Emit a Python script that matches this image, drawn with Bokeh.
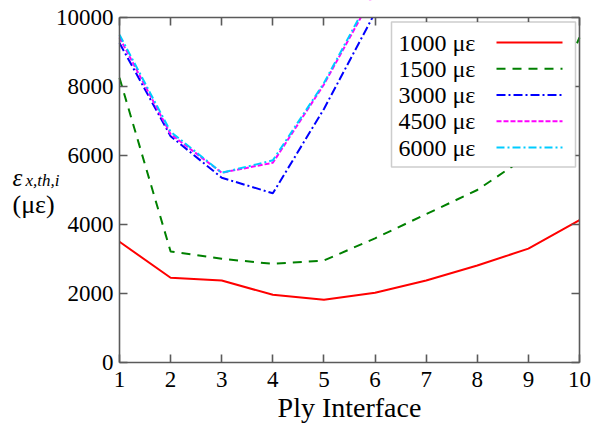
from bokeh.plotting import figure
from bokeh.models import LinearAxis, FixedTicker, Label, BoxAnnotation, Arrow, Range1d
from bokeh.embed import file_html
from bokeh.resources import INLINE

# ---------------- data ----------------
interfaces = [1, 2, 3, 4, 5, 6, 7, 8, 9, 10]
strain_1000 = [3500, 2455, 2377, 1962, 1817, 2020, 2377, 2812, 3300, 4130]
strain_1500 = [8250, 3217, 3006, 2860, 2956, 3600, 4300, 5000, 6000, 9420]
interfaces_high = [1, 2, 3, 4, 5, 6]
strain_3000 = [9260, 6560, 5356, 4904, 7350, 10140]
strain_4500 = [9420, 6620, 5500, 5790, 8060, 10750]
strain_6000 = [9500, 6690, 5500, 5860, 8100, 10850]
x_ticks = [1, 2, 3, 4, 5, 6, 7, 8, 9, 10]
y_ticks = [0, 2000, 4000, 6000, 8000, 10000]
legend_labels = ["1000 με", "1500 με", "3000 με", "4500 με", "6000 με"]
x_label = "Ply Interface"
y_label_sym = "ε"
y_label_sub = "x,th,i"
y_label_unit = "(με)"

# ---------------- styles ----------------
FONT = "Liberation Serif"
AXIS_COLOR = "#5a5a5a"
series = [
    (interfaces, strain_1000, "#ff0000", "solid"),
    (interfaces, strain_1500, "#008000", "9 7"),
    (interfaces_high, strain_3000, "#0000ff", "9 3 2 3"),
    (interfaces_high, strain_4500, "#ff00ff", "5 2"),
    (interfaces_high, strain_6000, "#00ccff", "8 3 2 3"),
]

W, H = 593, 428
XMIN, XMAX, YMIN, YMAX = 1, 10, 0, 10000
# position of the axes box on the page (px)
FL, FR, FT, FB = 119, 579, 17, 362


def dx(px):
    return XMIN + (px - FL) / (FR - FL) * (XMAX - XMIN)


def dy(py):
    return YMIN + (FB - py) / (FB - FT) * (YMAX - YMIN)


# The frame covers the whole canvas, so that the horizontal y-title and all
# tick labels are drawn un-clipped; the four axes are pinned to the data box.
p = figure(width=W, height=H, output_backend="svg", toolbar_location=None,
           x_range=Range1d(dx(0), dx(W)), y_range=Range1d(dy(H), dy(0)),
           min_border_left=0, min_border_right=0, min_border_top=0,
           min_border_bottom=0, x_axis_location=None, y_axis_location=None)
p.grid.visible = False
p.outline_line_color = None
p.background_fill_color = "white"
p.border_fill_color = "white"


def make_axis(ticks, show_labels):
    ax = LinearAxis(ticker=FixedTicker(ticks=ticks))
    ax.axis_line_color = AXIS_COLOR
    ax.axis_line_width = 1.6
    ax.major_tick_line_color = AXIS_COLOR
    ax.major_tick_line_width = 1.6
    ax.major_tick_in = 8
    ax.major_tick_out = 0
    ax.minor_tick_line_color = None
    ax.major_label_text_font = FONT
    ax.major_label_text_color = "black"
    if show_labels:
        ax.major_label_text_font_size = "23px"
    else:
        ax.major_label_text_font_size = "1px"
        ax.major_label_text_color = None
        ax.major_label_standoff = 0
    return ax


for xs, ys, color, dash in series:
    p.line(xs, ys, line_color=color, line_width=2, line_dash=dash)

# clip the curves at the top of the data box (y = YMAX); painted with the
# glyphs, before the axes
p.add_layout(BoxAnnotation(left=dx(FL - 2), right=dx(FR + 2), bottom=dy(FT),
                           top=dy(-5), fill_color="white", fill_alpha=1.0,
                           line_color=None, level="glyph"))

xb = make_axis(x_ticks, True)
xb.fixed_location = YMIN
xb.bounds = (XMIN, XMAX)
xb.major_label_standoff = 9
xb.axis_label = x_label
xb.axis_label_text_font = FONT
xb.axis_label_text_font_size = "28px"
xb.axis_label_text_font_style = "normal"
xb.axis_label_text_color = "black"
xb.axis_label_standoff = 2
p.add_layout(xb, "below")

yl = make_axis(y_ticks, True)
yl.fixed_location = XMIN
yl.bounds = (YMIN, YMAX)
yl.major_label_standoff = 6
p.add_layout(yl, "left")

xt = make_axis(x_ticks, False)
xt.fixed_location = YMAX
xt.bounds = (XMIN, XMAX)
p.add_layout(xt, "above")

yr = make_axis(y_ticks, False)
yr.fixed_location = XMAX
yr.bounds = (YMIN, YMAX)
p.add_layout(yr, "right")

# ---------------- legend (text left, sample right) ----------------
p.add_layout(BoxAnnotation(left=dx(391), right=dx(575), top=dy(21.5), bottom=dy(166.5),
                           fill_color="white", fill_alpha=1.0,
                           line_color=AXIS_COLOR, line_width=1.5))
row_y = [42, 68.3, 94.6, 120.8, 147]
for (xs, ys, color, dash), lab, ry in zip(series, legend_labels, row_y):
    p.add_layout(Label(x=dx(398), y=dy(ry), text=lab, text_font=FONT,
                       text_font_size="24px", text_baseline="middle",
                       text_align="left", text_color="black"))
    p.add_layout(Arrow(end=None, x_start=dx(496), y_start=dy(ry), x_end=dx(562),
                       y_end=dy(ry), line_color=color, line_width=2, line_dash=dash))


# ---------------- y-axis title (horizontal, left of the axis) ----------------
def ylab(px, py, text, size, style):
    p.add_layout(Label(x=dx(px), y=dy(py), text=text, text_font=FONT,
                       text_font_size=size, text_font_style=style,
                       text_align="left", text_baseline="alphabetic",
                       text_color="black"))


ylab(12, 177, y_label_sym, "25px", "italic")
ylab(25, 180, y_label_sub, "17px", "italic")
ylab(12, 204, y_label_unit, "26px", "normal")

open("out.html", "w").write(file_html(p, INLINE))
